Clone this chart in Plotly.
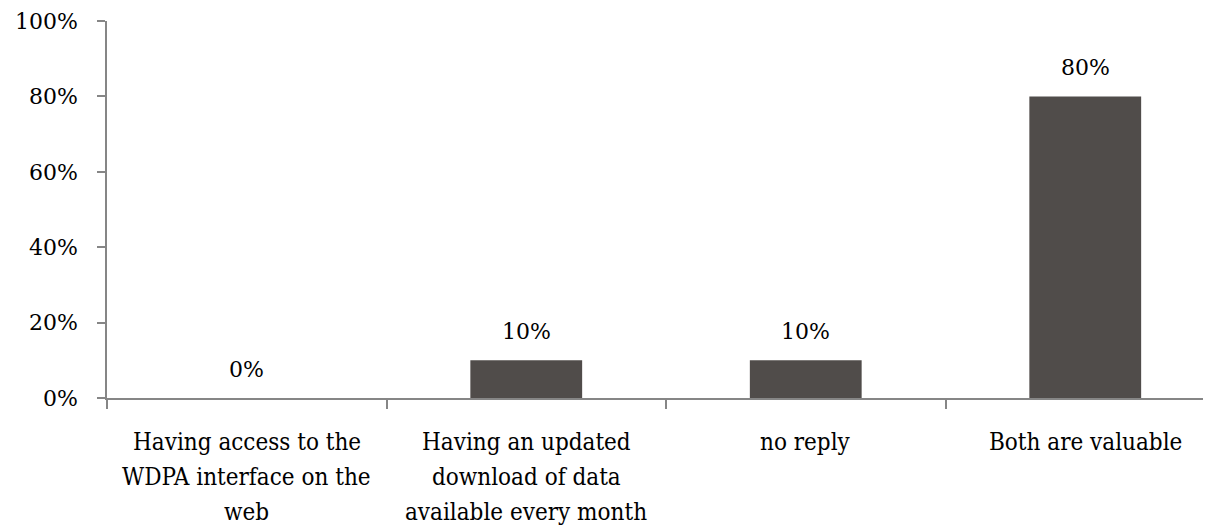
import plotly.graph_objects as go

categories = [
    "Having access to the<br>WDPA interface on the<br>web",
    "Having an updated<br>download of data<br>available every month",
    "no reply",
    "Both are valuable",
]
values = [0, 10, 10, 80]
value_labels = ["0%", "10%", "10%", "80%"]
y_ticks = [0, 20, 40, 60, 80, 100]
y_tick_labels = ["0%", "20%", "40%", "60%", "80%", "100%"]

AXIS = "#868686"
FONT = "DejaVu Serif"
FONT_C = "DejaVu Serif Condensed"

fig = go.Figure(
    go.Bar(
        x=categories,
        y=values,
        marker=dict(color="#504C4A", line=dict(width=0)),
        width=0.4,
        hoverinfo="skip",
    )
)

# value labels above bars
for c, v, t in zip(categories, values, value_labels):
    fig.add_annotation(
        x=c, y=v, text=t, showarrow=False, yanchor="bottom", yshift=14,
        font=dict(family=FONT, size=22, color="#000000"),
    )

# category labels (one annotation per line to mimic the original line spacing)
for c in categories:
    for i, line in enumerate(c.split("<br>")):
        fig.add_annotation(
            x=c, y=0, yref="y", text=line, showarrow=False,
            yanchor="middle", yshift=-(44 + 35 * i),
            font=dict(family=FONT_C, size=24, color="#000000"),
        )

fig.update_layout(
    width=1211, height=532,
    margin=dict(l=99, r=0, t=13, b=142, autoexpand=False),
    plot_bgcolor="white", paper_bgcolor="white",
    showlegend=False,
    font=dict(family=FONT, size=22, color="#000000"),
)
fig.update_xaxes(
    type="category",
    range=[-0.5, -0.5 + 1112 / 279.5],
    automargin=False,
    showgrid=False, zeroline=False,
    showline=True, linecolor=AXIS, linewidth=1.5,
    ticks="outside", tickson="boundaries", ticklen=9, tickcolor=AXIS, tickwidth=1.5,
    showticklabels=False,
)
fig.update_yaxes(
    range=[0, 100],
    automargin=False,
    tickvals=y_ticks, ticktext=y_tick_labels,
    showgrid=False, zeroline=False,
    showline=True, linecolor=AXIS, linewidth=1.5,
    ticks="outside", ticklen=8, tickcolor=AXIS, tickwidth=1.5,
    tickfont=dict(family=FONT, size=22, color="#000000"),
    ticklabelstandoff=15,
)

fig.write_html("out.html")
